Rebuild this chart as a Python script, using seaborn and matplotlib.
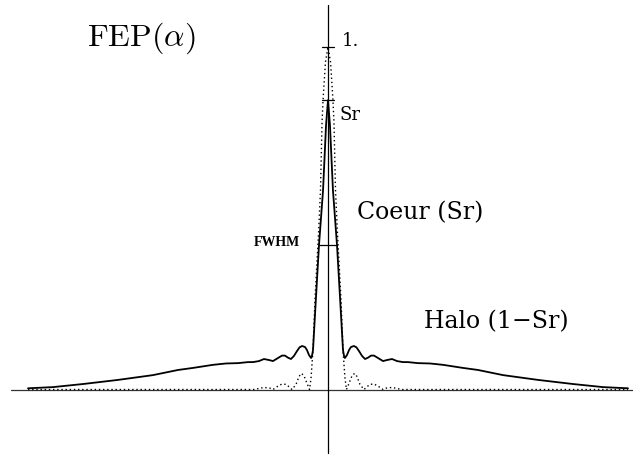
"""
plot.py - FEP(alpha) profile: core (Sr) and halo (1-Sr) vs the ideal Airy pattern.
"""

import numpy as np
import pandas as pd
import matplotlib
matplotlib.use("Agg")
import matplotlib.pyplot as plt
import seaborn as sns

# ─────────────────────────────────────────────
# DATA (right half of each symmetric profile)
# ─────────────────────────────────────────────

# real profile (solid): Sr peak + halo
real_alpha = [0.0, 0.13, 0.33, 0.6, 0.8, 1.0, 1.07, 1.13, 1.27, 1.4, 1.53, 1.73,
              1.9, 2.07, 2.27, 2.47, 2.67, 2.87, 3.07, 3.33, 3.67, 3.93, 4.27,
              4.6, 5.0, 5.33, 6.0, 6.8, 7.67, 9.0, 10.0, 11.67, 14.0, 16.33,
              18.33, 20.0]
real_fep = [0.845, 0.772, 0.582, 0.422, 0.270, 0.115, 0.098, 0.092, 0.101, 0.115,
            0.124, 0.127, 0.123, 0.112, 0.098, 0.089, 0.093, 0.099, 0.099, 0.092,
            0.083, 0.086, 0.089, 0.083, 0.080, 0.080, 0.077, 0.076, 0.072, 0.063,
            0.057, 0.042, 0.028, 0.016, 0.007, 0.0035]

# ideal Airy profile (dotted)
airy_alpha = [0.0, 0.17, 0.33, 0.4, 0.5, 0.63, 0.87, 1.0, 1.13, 1.23, 1.4, 1.6,
              1.77, 1.93, 2.13, 2.4, 2.6, 2.8, 3.07, 3.33, 3.67, 3.87, 4.27,
              4.6, 4.93, 7.0, 10.0, 14.0, 20.0]
airy_fep = [1.0, 0.956, 0.845, 0.778, 0.582, 0.457, 0.261, 0.115, 0.034, 0.0,
            0.018, 0.040, 0.047, 0.038, 0.015, 0.0, 0.008, 0.015, 0.016, 0.010,
            0.0, 0.004, 0.006, 0.003, 0.0, 0.0, 0.0, 0.0, 0.0]

strehl = 0.845
fwhm_half = 0.6


def mirror(alpha, fep, name):
    a = np.array(alpha)
    f = np.array(fep)
    x = np.concatenate([-a[:0:-1], a])
    y = np.concatenate([f[:0:-1], f])
    return pd.DataFrame({"alpha": x, "fep": y, "profile": name})


df = pd.concat([mirror(real_alpha, real_fep, "reel"),
                mirror(airy_alpha, airy_fep, "airy")], ignore_index=True)

# ─────────────────────────────────────────────
# PLOT
# ─────────────────────────────────────────────

sns.set_style("white")
plt.rcParams["mathtext.fontset"] = "cm"
plt.rcParams["text.color"] = "black"

fig = plt.figure(figsize=(6.33, 4.55), dpi=100)
ax = fig.add_axes([0, 0, 1, 1])

px = 15.0      # pixels per alpha unit
py = 342.5     # pixels per FEP unit
ax.set_xlim(-328 / px, 305 / px)
ax.set_ylim(-65.5 / py, 389.5 / py)
ax.axis("off")

# axes through the origin
ax.plot([-317 / px, 305 / px], [0, 0], color="#333333", lw=0.9)
ax.plot([0, 0], [-63 / py, 385 / py], color="black", lw=0.9)

sns.lineplot(data=df[df.profile == "airy"], x="alpha", y="fep", ax=ax,
             color="black", lw=1.0, linestyle=(0, (1, 2)), sort=False,
             estimator=None, legend=False)
sns.lineplot(data=df[df.profile == "reel"], x="alpha", y="fep", ax=ax,
             color="black", lw=1.3, sort=False, estimator=None, legend=False,
             solid_joinstyle="round")

# ticks at 1 and Sr
tick = 6 / px
ax.plot([-tick, tick], [1.0, 1.0], color="black", lw=0.9)
ax.plot([-tick, tick], [strehl, strehl], color="black", lw=0.9)

# FWHM bar
ax.plot([-fwhm_half, fwhm_half], [strehl / 2, strehl / 2], color="black", lw=0.9)

# labels
ax.text(-241 / px, (389.5 - 38) / py, r"$\mathrm{FEP}(\alpha)$",
        fontsize=23, va="center", ha="left")
ax.text(14 / px, 1.0 + 6 / py, "1.", fontsize=13, family="DejaVu Serif",
        va="center", ha="left")
ax.text(12 / px, strehl - 15 / py, "Sr", fontsize=13, family="DejaVu Serif",
        va="center", ha="left")
ax.text(-28 / px, strehl / 2 + 2 / py, "FWHM", fontsize=10,
        family="Liberation Serif", fontweight="bold", va="center", ha="right")
ax.text(29 / px, (389.5 - 213) / py, "Coeur (Sr)", fontsize=17,
        family="DejaVu Serif", va="center", ha="left")
ax.text(96 / px, (389.5 - 322) / py, "Halo (1\u2212Sr)", fontsize=17,
        family="DejaVu Serif", va="center", ha="left")

fig.savefig("out.png", dpi=100)
plt.close(fig)
